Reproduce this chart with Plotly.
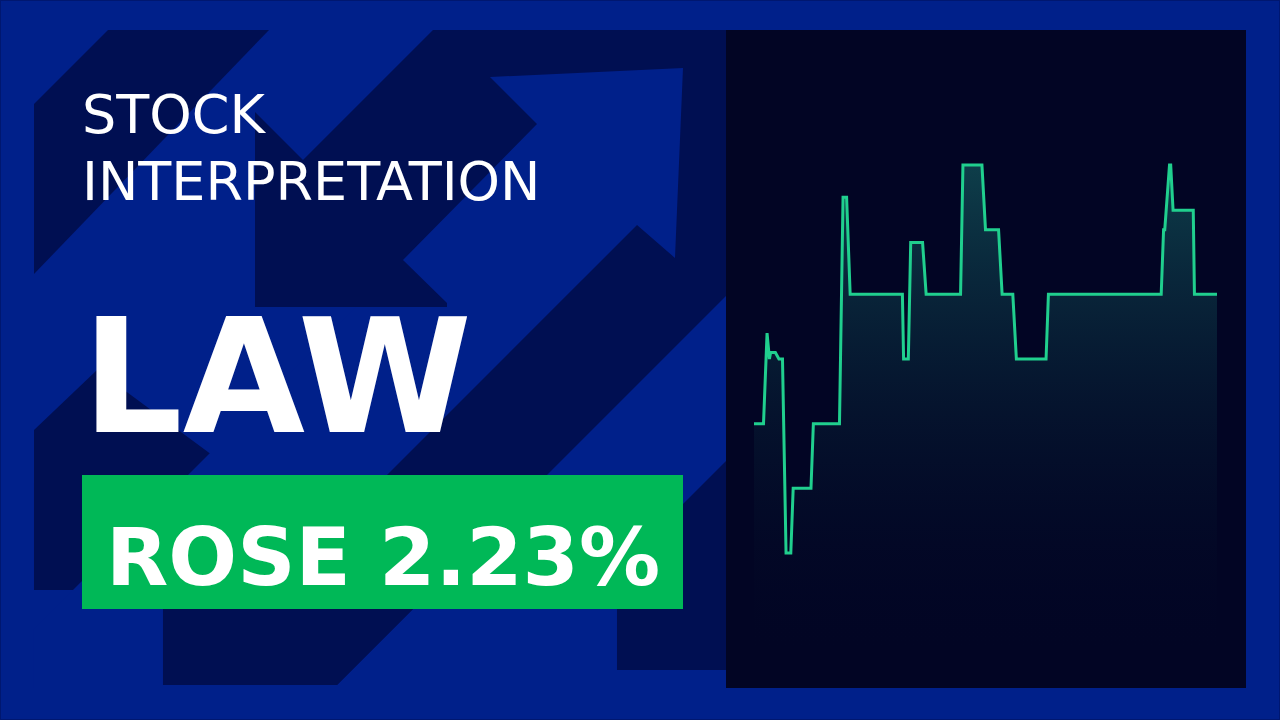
import plotly.graph_objects as go

# ---- data: intraday price of LAW (minutes after open, price) ----
minutes = [0, 8, 11, 13, 14, 18, 21, 24, 27, 31, 33, 48, 50, 72, 75, 78, 81,
           125, 126, 130, 132, 142, 145, 174, 176, 192, 195, 206, 209, 218,
           221, 246, 248, 343, 345, 346, 350, 351, 353, 370, 371, 390]
prices = [4.48, 4.48, 4.55, 4.53, 4.535, 4.535, 4.53, 4.53, 4.38, 4.38, 4.43,
          4.43, 4.48, 4.48, 4.655, 4.655, 4.58, 4.58, 4.53, 4.53, 4.62, 4.62,
          4.58, 4.58, 4.68, 4.68, 4.63, 4.63, 4.58, 4.58, 4.53, 4.53, 4.58,
          4.58, 4.63, 4.63, 4.68, 4.68, 4.645, 4.645, 4.58, 4.58]

title_line1 = "STOCK"
title_line2 = "INTERPRETATION"
ticker = "LAW"
change_label = "ROSE 2.23%"

W, H = 1280, 720
BG = "#00208a"
DARK = "#000f52"
PANEL = "#020524"
GREEN = "#00b857"
LINE = "#20cf8e"
FONT = "DejaVu Sans"


def poly(points, color):
    path = "M " + " L ".join(f"{x / W:.5f},{1 - y / H:.5f}" for x, y in points) + " Z"
    return dict(type="path", xref="paper", yref="paper", path=path,
                fillcolor=color, line=dict(width=0), layer="below")


def rect(x0, y0, x1, y1, color):
    return dict(type="rect", xref="paper", yref="paper",
                x0=x0 / W, x1=x1 / W, y0=1 - y1 / H, y1=1 - y0 / H,
                fillcolor=color, line=dict(width=0), layer="below")


shapes = [
    # dark decorative arrow pieces
    poly([(108, 30), (269, 30), (34, 274), (34, 104)], DARK),
    poly([(303, 160), (433, 30), (727, 30), (727, 295), (337, 685), (163, 685),
          (163, 609), (447, 307), (255, 307), (255, 112)], DARK),
    poly([(34, 430), (97, 370), (250, 483), (250, 590), (34, 590)], DARK),
    # bright arrow (head + shaft)
    poly([(537, 124), (403, 260), (447, 303), (447, 307), (356, 307), (34, 629),
          (34, 688), (174, 688), (637, 225), (675, 258), (683, 68), (490, 77)], BG),
    poly([(163, 609), (163, 685), (337, 685), (413, 609)], DARK),
    poly([(727, 460), (617, 570), (617, 670), (727, 670)], DARK),
    # chart panel
    rect(726, 30, 1246, 688, PANEL),
    # green label box
    rect(82, 475, 683, 609, GREEN),
    # thin outer frame
    dict(type="rect", xref="paper", yref="paper", x0=0, x1=1, y0=0, y1=1,
         line=dict(color="#001770", width=2), fillcolor="rgba(0,0,0,0)", layer="below"),
]

fig = go.Figure()
fig.add_trace(go.Scatter(
    x=minutes, y=prices, mode="lines",
    line=dict(color=LINE, width=3),
    fill="tozeroy",
    fillgradient=dict(type="vertical", start=4.30, stop=4.68,
                      colorscale=[[0, "rgba(2,5,36,0)"], [1, "rgba(14,62,74,1)"]]),
    hoverinfo="skip", showlegend=False,
))

px_per_min = 463 / 390
px_per_val = 64.67 / 0.05
x_lo = -(754 - 726) / px_per_min
x_hi = 390 + (1246 - 1217) / px_per_min
y_lo = 4.38 - (688 - 553) / px_per_val
y_hi = 4.38 + (553 - 30) / px_per_val

annotations = [
    dict(text=title_line1, x=80 / W, y=1 - 114 / H, xanchor="left", yanchor="middle",
         font=dict(family=FONT, size=54, color="white")),
    dict(text=title_line2, x=80 / W, y=1 - 181 / H, xanchor="left", yanchor="middle",
         font=dict(family=FONT, size=54, color="white")),
    dict(text="<b>" + ticker + "</b>", x=80 / W, y=1 - 377 / H, xanchor="left",
         yanchor="middle", font=dict(family=FONT, size=158, color="white")),
    dict(text="<b>" + change_label + "</b>", x=382.5 / W, y=1 - 557 / H,
         xanchor="center", yanchor="middle",
         font=dict(family=FONT, size=81, color="white")),
]
for a in annotations:
    a.update(xref="paper", yref="paper", showarrow=False)

fig.update_layout(
    width=W, height=H,
    margin=dict(l=0, r=0, t=0, b=0),
    paper_bgcolor=BG, plot_bgcolor="rgba(0,0,0,0)",
    shapes=shapes, annotations=annotations,
    xaxis=dict(domain=[726 / W, 1246 / W], range=[x_lo, x_hi], visible=False,
               showgrid=False, zeroline=False, fixedrange=True),
    yaxis=dict(domain=[1 - 688 / H, 1 - 30 / H], range=[y_lo, y_hi], visible=False,
               showgrid=False, zeroline=False, fixedrange=True),
    showlegend=False,
)

fig.write_html("out.html", config={"displayModeBar": False},
               post_script="document.body.style.margin='0';document.body.style.overflow='hidden';")
